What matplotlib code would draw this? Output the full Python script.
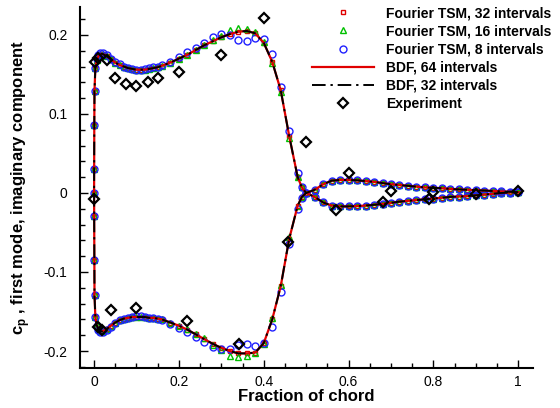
import matplotlib
matplotlib.use('Agg')
import matplotlib.pyplot as plt
from matplotlib.ticker import MultipleLocator

plt.rcParams['font.family'] = ['Liberation Sans', 'DejaVu Sans']
plt.rcParams['mathtext.fontset'] = 'custom'
plt.rcParams['mathtext.rm'] = 'Liberation Sans'
plt.rcParams['mathtext.bf'] = 'Liberation Sans:bold'

# chordwise stations (same grid for upper and lower surface)
x_grid = [0.0, 0.0002, 0.0005, 0.001, 0.003, 0.006, 0.01, 0.015, 0.02,
          0.03, 0.04, 0.05, 0.06, 0.07, 0.08, 0.09, 0.10, 0.11, 0.12, 0.13, 0.14, 0.15, 0.16,
          0.18, 0.20, 0.22, 0.24, 0.26, 0.28, 0.30, 0.32, 0.34, 0.36, 0.38, 0.40,
          0.42, 0.44, 0.46, 0.48, 0.49, 0.50,
          0.52, 0.54, 0.56, 0.58, 0.60, 0.62, 0.64, 0.66, 0.68, 0.70, 0.72, 0.74,
          0.76, 0.78, 0.80, 0.82, 0.84, 0.86, 0.88, 0.90, 0.92, 0.94, 0.96, 0.98, 1.0]

# BDF 64 / BDF 32 / TSM 32 (all on top of each other)
cp_upper = [0.0, 0.03, 0.086, 0.129, 0.158, 0.168, 0.173, 0.176, 0.176,
            0.173, 0.169, 0.165, 0.162, 0.160, 0.158, 0.157, 0.156, 0.156, 0.156, 0.157, 0.158, 0.159, 0.161,
            0.165, 0.170, 0.175, 0.181, 0.187, 0.192, 0.197, 0.201, 0.204, 0.205, 0.202, 0.190,
            0.166, 0.130, 0.072, 0.020, 0.007, 0.0,
            0.004, 0.011, 0.0155, 0.0165, 0.0165, 0.016, 0.015, 0.014, 0.0125, 0.011, 0.010, 0.009,
            0.008, 0.007, 0.0065, 0.006, 0.005, 0.0045, 0.004, 0.0035, 0.003, 0.0025, 0.002, 0.0015, 0.001]
cp_lower = [0.0, -0.029, -0.085, -0.129, -0.157, -0.167, -0.172, -0.175, -0.175,
            -0.172, -0.168, -0.164, -0.161, -0.159, -0.158, -0.157, -0.157, -0.157, -0.157, -0.158, -0.158, -0.159, -0.160,
            -0.164, -0.168, -0.173, -0.179, -0.185, -0.191, -0.196, -0.200, -0.203, -0.203, -0.202, -0.190,
            -0.160, -0.118, -0.058, -0.016, -0.005, 0.0,
            -0.005, -0.012, -0.016, -0.017, -0.017, -0.0165, -0.016, -0.015, -0.014, -0.0125, -0.011, -0.010,
            -0.009, -0.008, -0.007, -0.006, -0.005, -0.0045, -0.004, -0.003, -0.002, -0.001, 0.0, 0.0005, 0.001]

# Fourier TSM, 16 intervals
cp_upper_16 = [0.0, 0.03, 0.086, 0.129, 0.158, 0.168, 0.173, 0.176, 0.176,
               0.173, 0.169, 0.165, 0.162, 0.160, 0.158, 0.157, 0.156, 0.156, 0.156, 0.157, 0.158, 0.159, 0.161,
               0.165, 0.170, 0.175, 0.181, 0.187, 0.193, 0.199, 0.206, 0.209, 0.208, 0.204, 0.191,
               0.165, 0.128, 0.070, 0.020, 0.007, 0.0,
               0.004, 0.011, 0.0155, 0.0165, 0.0165, 0.016, 0.015, 0.014, 0.0125, 0.011, 0.010, 0.009,
               0.008, 0.007, 0.0065, 0.006, 0.005, 0.0045, 0.004, 0.0035, 0.003, 0.0025, 0.002, 0.0015, 0.001]
cp_lower_16 = [0.0, -0.029, -0.085, -0.129, -0.157, -0.167, -0.172, -0.175, -0.175,
               -0.172, -0.168, -0.164, -0.161, -0.159, -0.158, -0.157, -0.157, -0.157, -0.157, -0.158, -0.158, -0.159, -0.160,
               -0.164, -0.168, -0.172, -0.178, -0.184, -0.192, -0.199, -0.206, -0.207, -0.206, -0.203, -0.191,
               -0.158, -0.116, -0.056, -0.016, -0.005, 0.0,
               -0.005, -0.012, -0.016, -0.017, -0.017, -0.0165, -0.016, -0.015, -0.014, -0.0125, -0.011, -0.010,
               -0.009, -0.008, -0.007, -0.006, -0.005, -0.0045, -0.004, -0.003, -0.002, -0.001, 0.0, 0.0005, 0.001]

# Fourier TSM, 8 intervals
cp_upper_8 = [0.0, 0.03, 0.086, 0.129, 0.158, 0.169, 0.174, 0.177, 0.177,
              0.174, 0.170, 0.166, 0.163, 0.160, 0.158, 0.157, 0.156, 0.156, 0.157, 0.158, 0.159, 0.160, 0.162,
              0.166, 0.172, 0.178, 0.184, 0.190, 0.197, 0.201, 0.200, 0.194, 0.192, 0.196, 0.195,
              0.176, 0.134, 0.078, 0.025, 0.008, 0.0,
              0.004, 0.011, 0.0155, 0.0165, 0.0165, 0.016, 0.015, 0.014, 0.0125, 0.011, 0.010, 0.009,
              0.008, 0.007, 0.0065, 0.006, 0.005, 0.0045, 0.004, 0.0035, 0.003, 0.0025, 0.002, 0.0015, 0.001]
cp_lower_8 = [0.0, -0.029, -0.085, -0.129, -0.157, -0.168, -0.173, -0.176, -0.176,
              -0.173, -0.169, -0.165, -0.161, -0.159, -0.158, -0.157, -0.156, -0.156, -0.157, -0.158, -0.158, -0.159, -0.161,
              -0.166, -0.171, -0.176, -0.182, -0.189, -0.195, -0.198, -0.197, -0.193, -0.191, -0.194, -0.190,
              -0.170, -0.125, -0.065, -0.020, -0.006, 0.0,
              -0.005, -0.012, -0.016, -0.017, -0.017, -0.0165, -0.016, -0.015, -0.014, -0.0125, -0.011, -0.010,
              -0.009, -0.008, -0.007, -0.006, -0.005, -0.0045, -0.004, -0.003, -0.002, -0.001, 0.0, 0.0005, 0.001]

# experiment
exp_x = [0.0024, 0.01, 0.03, 0.05, 0.0755, 0.10, 0.126, 0.15, 0.20, 0.30, 0.40, 0.499, 0.601, 0.70, 0.80, 0.90, 1.0,
         0.0, 0.0087, 0.018, 0.04, 0.10, 0.219, 0.342, 0.458, 0.571, 0.681, 0.79]
exp_cp = [0.166, 0.171, 0.168, 0.146, 0.1376, 0.135, 0.140, 0.146, 0.153, 0.175, 0.221, 0.064, 0.0257, 0.003, 0.001, -0.001, 0.002,
          -0.007, -0.169, -0.173, -0.148, -0.145, -0.162, -0.191, -0.062, -0.022, -0.012, -0.007]


def loop(xu, yu, yl):
    # trailing edge -> leading edge on upper, then back along lower
    return list(xu[::-1]) + list(xu[1:]), list(yu[::-1]) + list(yl[1:])


fig = plt.figure(figsize=(5.6, 4.08), dpi=100)
ax = fig.add_axes([0.143, 0.098, 0.809, 0.885])

x32, y32 = loop(x_grid, cp_upper, cp_lower)
x16, y16 = loop(x_grid, cp_upper_16, cp_lower_16)
x8, y8 = loop(x_grid, cp_upper_8, cp_lower_8)

ax.plot(x32, y32, ls='none', marker='s', ms=3.2, mfc='none', mec='#e00000', mew=1.0,
        label='Fourier TSM, 32 intervals', zorder=2)
ax.plot(x16, y16, ls='none', marker='^', ms=4.0, mfc='none', mec='#00c000', mew=1.0,
        label='Fourier TSM, 16 intervals', zorder=2)
ax.plot(x8, y8, ls='none', marker='o', ms=5.0, mfc='none', mec='#2020ff', mew=1.0,
        label='Fourier TSM, 8 intervals', zorder=2)
ax.plot(x32, y32, color='#e00000', lw=1.6, label='BDF, 64 intervals', zorder=3)
ax.plot(x32, y32, color='black', lw=1.4, dashes=(7, 2.5, 1.2, 2.5), label='BDF, 32 intervals', zorder=4)
ax.plot(exp_x, exp_cp, ls='none', marker='D', ms=5.5, mfc='none', mec='black', mew=1.6,
        label='Experiment', zorder=5)

ax.set_xlim(-0.033, 1.035)
ax.set_ylim(-0.2215, 0.2354)
ax.xaxis.set_minor_locator(MultipleLocator(0.05))
ax.yaxis.set_minor_locator(MultipleLocator(0.02))
ax.set_xticks([0, 0.2, 0.4, 0.6, 0.8, 1.0])
ax.set_xticklabels(['0', '0.2', '0.4', '0.6', '0.8', '1'])
ax.set_yticks([-0.2, -0.1, 0, 0.1, 0.2])
ax.set_yticklabels(['-0.2', '-0.1', '0', '0.1', '0.2'])
ax.tick_params(which='both', direction='in', width=1.0, labelsize=10, color='black')
ax.tick_params(which='major', length=6)
ax.tick_params(which='minor', length=3.5)
ax.tick_params(axis='y', which='major', pad=9)
ax.tick_params(axis='x', which='major', pad=5)
ax.spines['top'].set_visible(False)
ax.spines['right'].set_visible(False)
ax.spines['left'].set_linewidth(1.5)
ax.spines['bottom'].set_linewidth(1.5)

ax.set_xlabel('Fraction of chord', fontsize=12, fontweight='bold', labelpad=0)
ax.set_ylabel(r'$\mathbf{c}_{\mathbf{p}}$ , first mode, imaginary component', fontsize=12,
              fontweight='bold', labelpad=8)

leg = ax.legend(loc='upper left', bbox_to_anchor=(0.557, 0.985), bbox_transform=fig.transFigure,
                frameon=False, numpoints=1, handlelength=4.5, handletextpad=0.85,
                labelspacing=0.3, borderpad=0, borderaxespad=0,
                prop={'weight': 'bold', 'size': 10})

fig.savefig('out.png', dpi=100)
